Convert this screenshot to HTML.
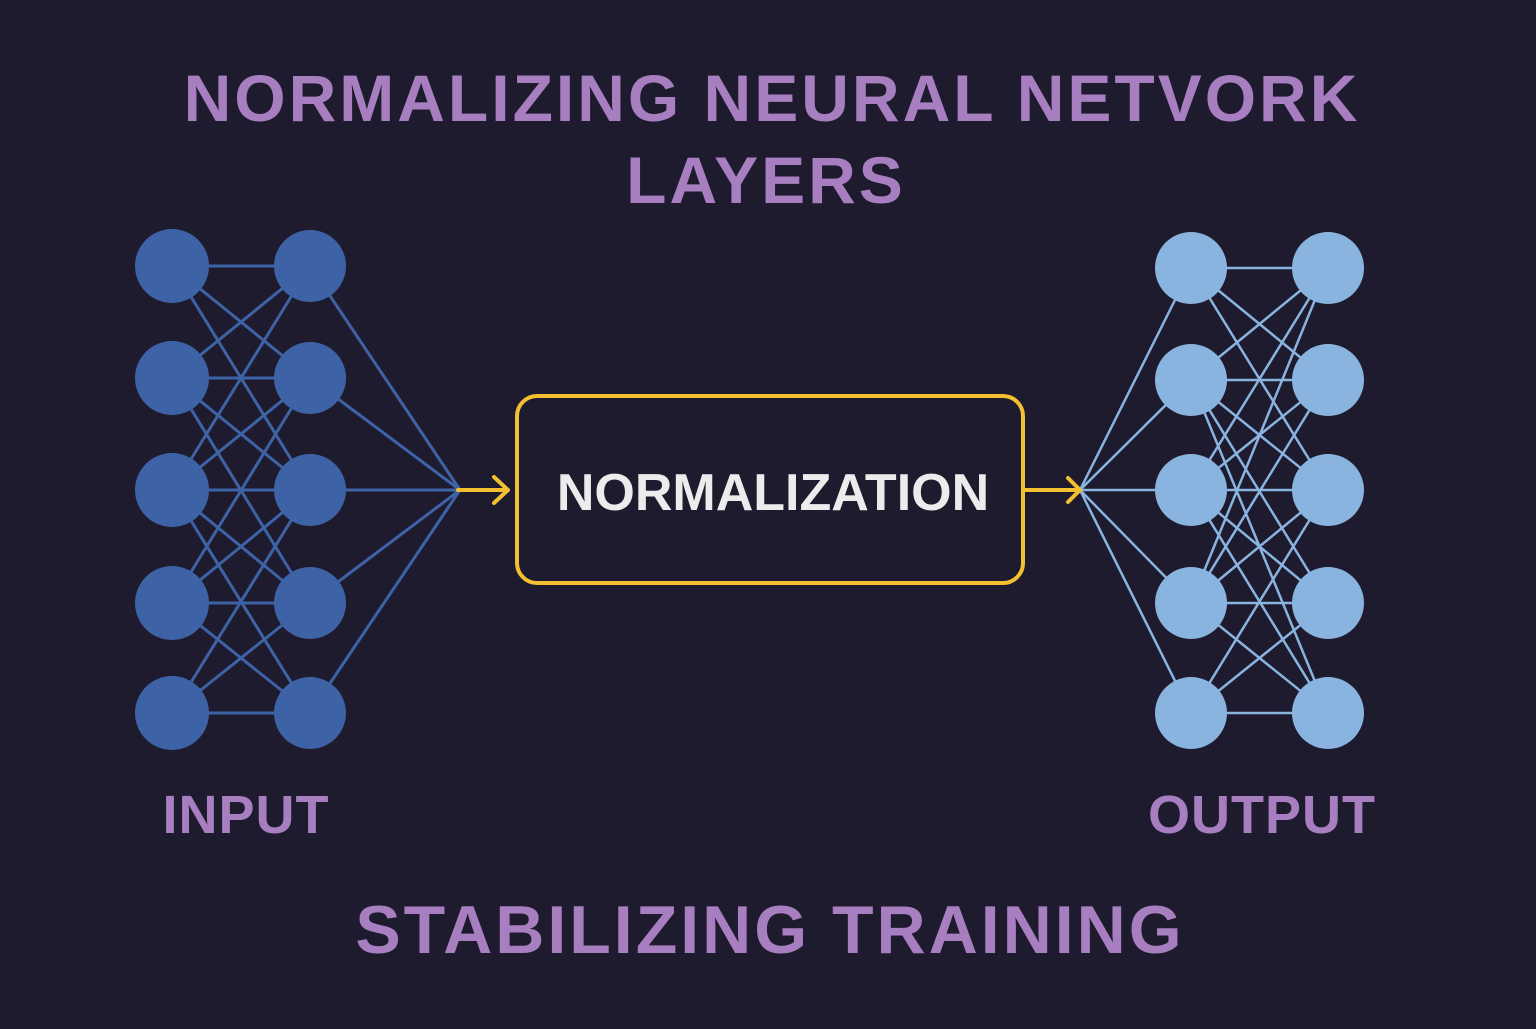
<!DOCTYPE html>
<html><head><meta charset="utf-8"><style>
html,body{margin:0;padding:0;background:#1f1b2e;}
body{width:1536px;height:1024px;overflow:hidden;}
</style></head><body>
<svg width="1536" height="1024" viewBox="0 0 1536 1024" xmlns="http://www.w3.org/2000/svg">
<rect width="1536" height="1024" fill="#1f1b2e"/>
<g font-family="Liberation Sans, sans-serif" font-weight="bold" fill="#a77fc0" text-anchor="middle">
<text x="772" y="121" font-size="66" letter-spacing="3">NORMALIZING NEURAL NETVORK</text>
<text x="766" y="203" font-size="66" letter-spacing="3">LAYERS</text>
<text x="246" y="833" font-size="54" letter-spacing="1">INPUT</text>
<text x="1262" y="833" font-size="54" letter-spacing="1">OUTPUT</text>
<text x="770" y="953" font-size="68" letter-spacing="3">STABILIZING TRAINING</text>
</g>
<g stroke="#3d63a6" stroke-width="3" fill="none">
<path d="M172 266L310 266M172 378L310 378M172 490L310 490M172 603L310 603M172 713L310 713
M172 266L310 378M172 266L310 490M172 378L310 266M172 378L310 490M172 378L310 603
M172 490L310 266M172 490L310 378M172 490L310 603M172 490L310 713
M172 603L310 378M172 603L310 490M172 603L310 713M172 713L310 490M172 713L310 603
M310 266L460 490M310 378L460 490M310 490L460 490M310 603L460 490M310 713L460 490"/>
</g>
<g fill="#3d63a6">
<circle cx="172" cy="266" r="37"/><circle cx="172" cy="378" r="37"/><circle cx="172" cy="490" r="37"/><circle cx="172" cy="603" r="37"/><circle cx="172" cy="713" r="37"/>
<circle cx="310" cy="266" r="36"/><circle cx="310" cy="378" r="36"/><circle cx="310" cy="490" r="36"/><circle cx="310" cy="603" r="36"/><circle cx="310" cy="713" r="36"/>
</g>
<g stroke="#8ab4e0" stroke-width="2.5" fill="none">
<path d="M1191 268L1328 268M1191 380L1328 380M1191 490L1328 490M1191 603L1328 603M1191 713L1328 713
M1191 268L1328 380M1191 268L1328 490M1191 380L1328 268M1191 380L1328 490M1191 380L1328 603M1191 380L1328 713
M1191 490L1328 268M1191 490L1328 380M1191 490L1328 603M1191 490L1328 713
M1191 603L1328 380M1191 603L1328 490M1191 603L1328 713M1191 713L1328 490M1191 713L1328 603M1191 603L1328 268
M1080 490L1191 268M1080 490L1191 380M1080 490L1191 490M1080 490L1191 603M1080 490L1191 713"/>
</g>
<g fill="#8ab4e0">
<circle cx="1191" cy="268" r="36"/><circle cx="1191" cy="380" r="36"/><circle cx="1191" cy="490" r="36"/><circle cx="1191" cy="603" r="36"/><circle cx="1191" cy="713" r="36"/>
<circle cx="1328" cy="268" r="36"/><circle cx="1328" cy="380" r="36"/><circle cx="1328" cy="490" r="36"/><circle cx="1328" cy="603" r="36"/><circle cx="1328" cy="713" r="36"/>
</g>
<g stroke="#f2c030" stroke-width="4" fill="none" stroke-linecap="round" stroke-linejoin="round">
<path d="M458 490L508 490M494 477L508 490L494 503"/>
<path d="M1025 490L1080 490M1068 478L1080 490L1068 502"/>
<rect x="517" y="396" width="506" height="187" rx="20"/>
</g>
<text x="773" y="510" font-family="Liberation Sans, sans-serif" font-weight="bold" font-size="52" fill="#ececec" text-anchor="middle">NORMALIZATION</text>
</svg>
</body></html>
